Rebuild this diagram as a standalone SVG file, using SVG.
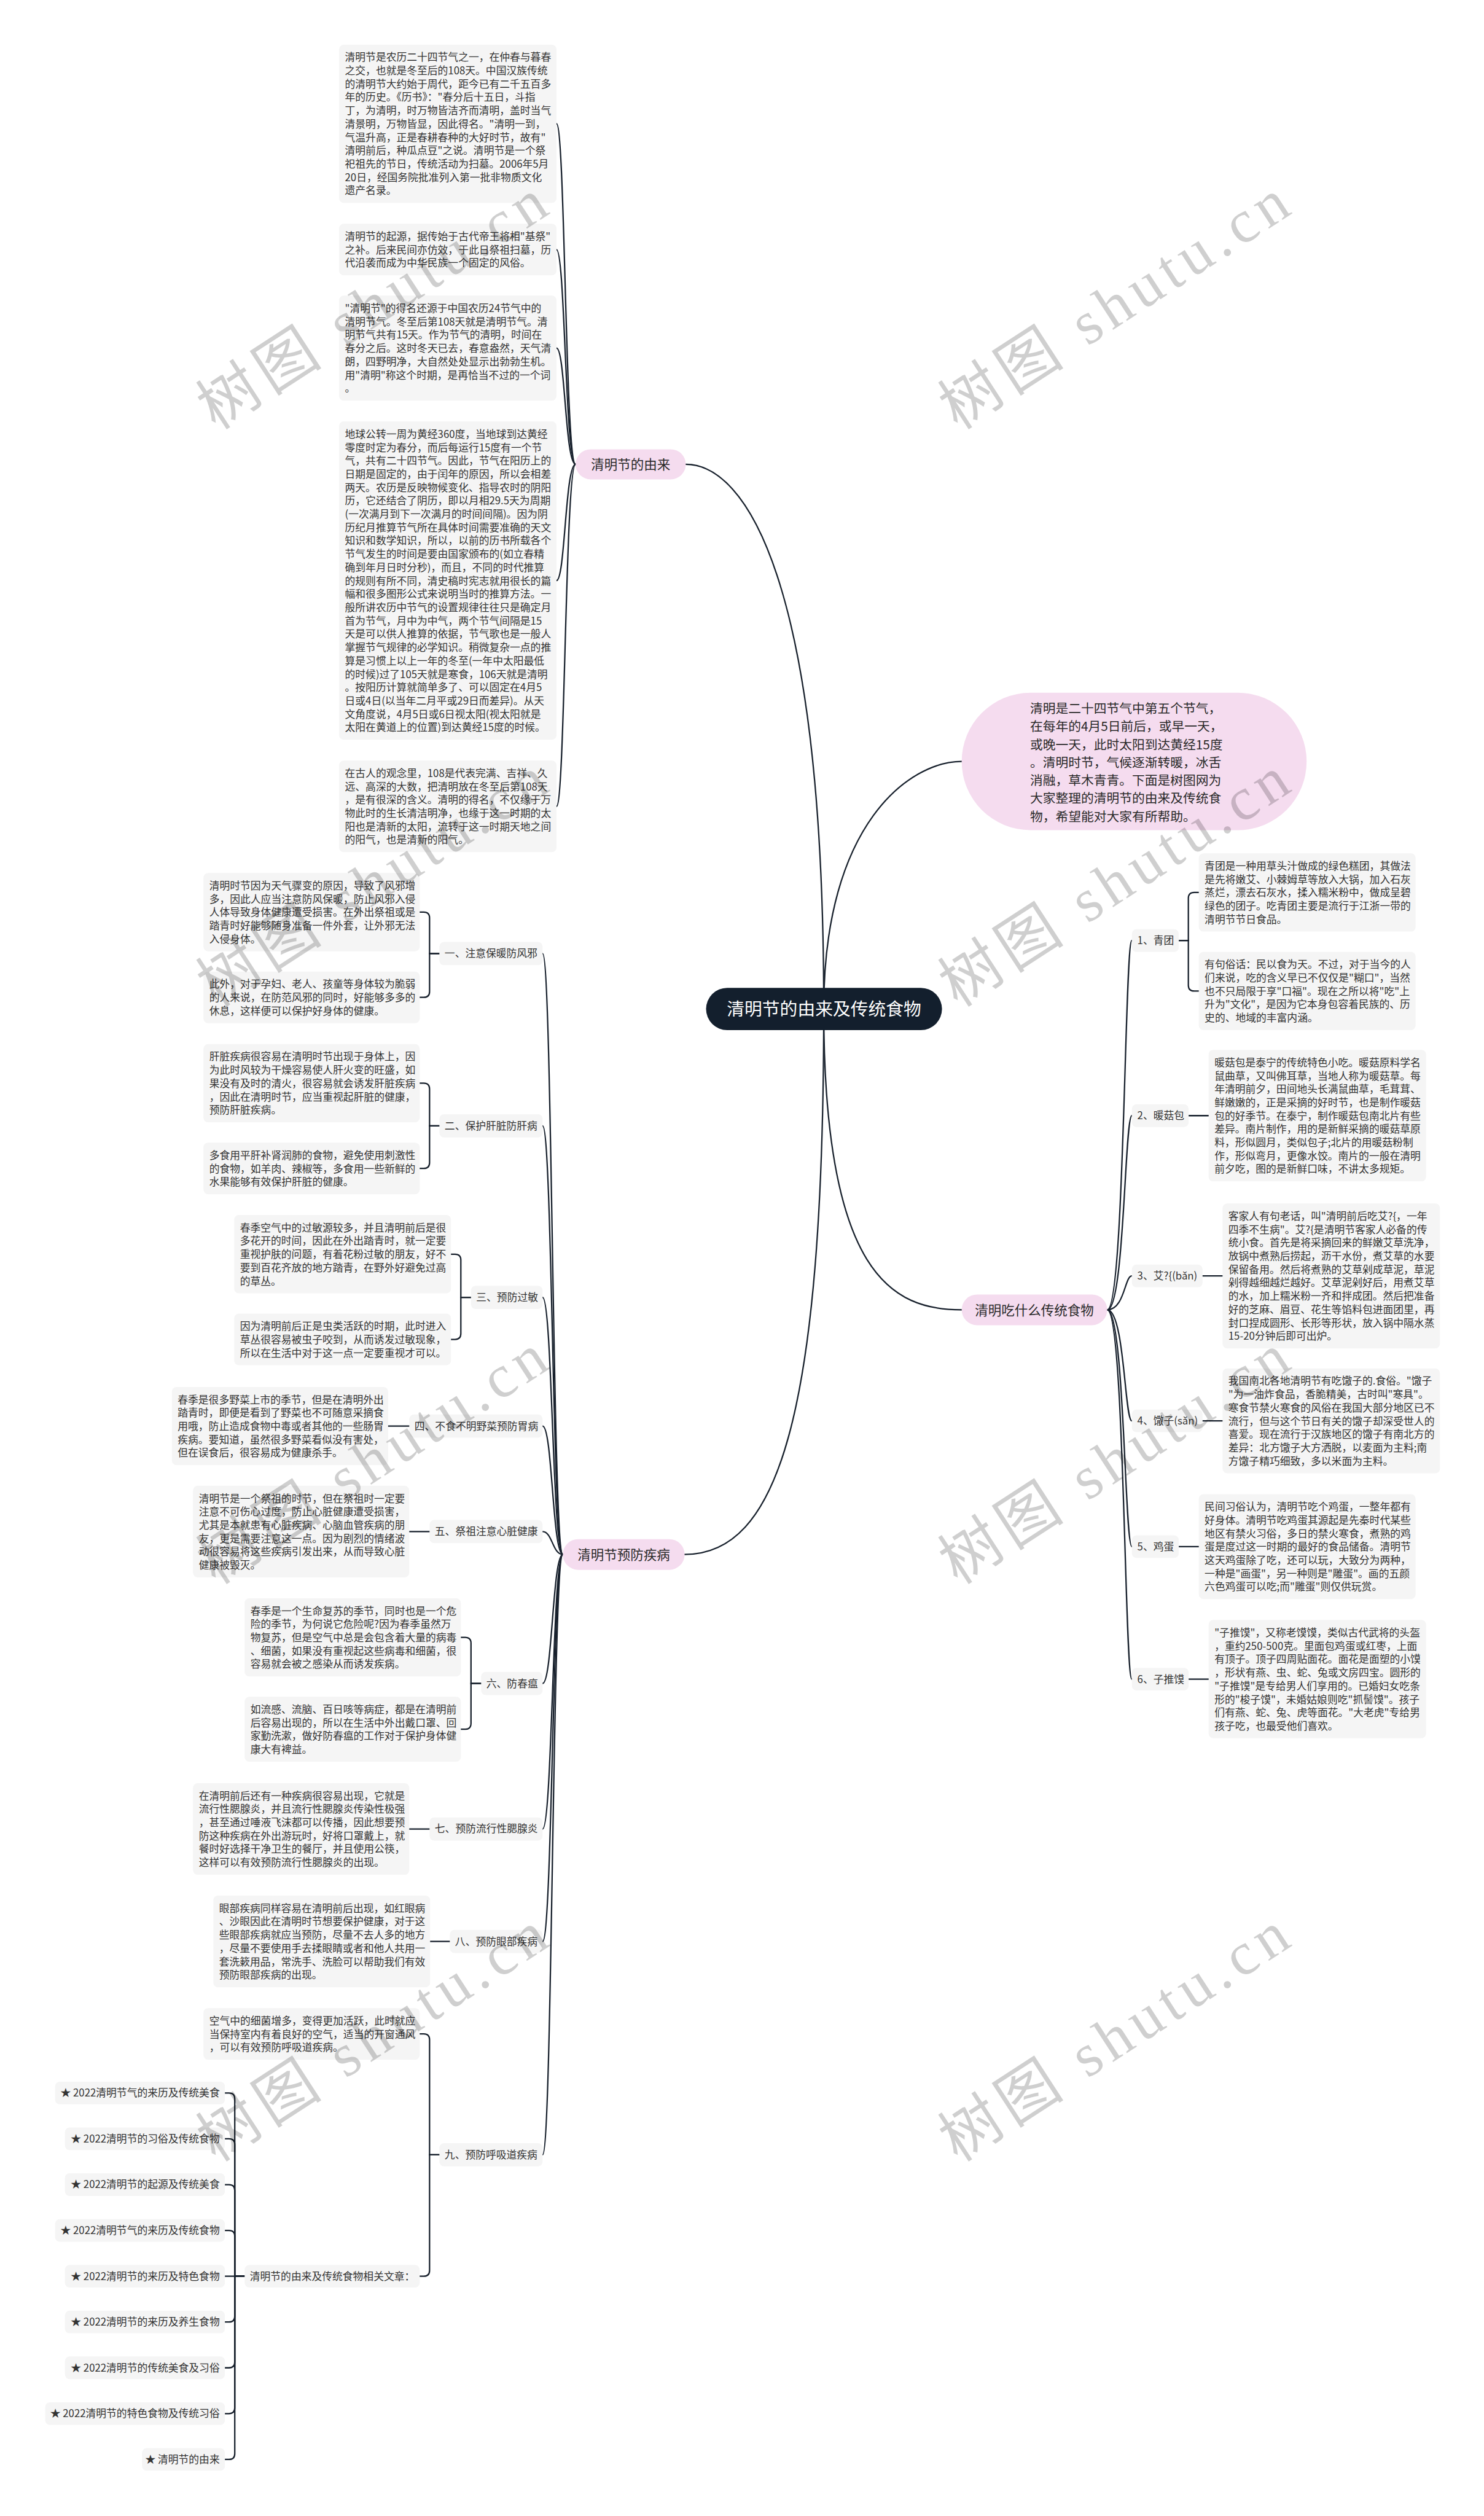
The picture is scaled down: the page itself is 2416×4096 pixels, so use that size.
<svg xmlns="http://www.w3.org/2000/svg" width="2416" height="4096" viewBox="0 0 2416 4096">
<style>
.t{font-family:"Noto Sans CJK SC","Noto Sans",sans-serif;font-size:17.8px;fill:#333}
.n{font-family:"Noto Sans CJK SC","Noto Sans",sans-serif;font-size:22.8px;fill:#2a2a2a;text-anchor:middle}
.b{font-family:"Noto Sans CJK SC","Noto Sans",sans-serif;font-size:22px;fill:#2a2a2a}
.r{font-family:"Noto Sans CJK SC","Noto Sans",sans-serif;font-size:30.5px;fill:#fff;text-anchor:middle}
.box{fill:#f5f5f5}
.pink{fill:#f5dcef}
.lnk{fill:none;stroke:#17202c;stroke-width:2.4;stroke-linecap:round}
.wm{font-family:"Liberation Serif","Noto Sans CJK SC",serif;font-size:105px;fill:#000;fill-opacity:0.19;text-anchor:middle}
</style>
<rect width="2416" height="4096" fill="#fff"/>
<g transform="scale(0.94375)">
<g id="connectors">
<path class="lnk" d="M1421,1740 C1421,1000 1286,801 1183,801"/>
<path class="lnk" d="M1421,1740 C1421,1420 1570,1313.5 1659,1313.5"/>
<path class="lnk" d="M1421,1740 C1421,2200 1540,2259.5 1659,2259.5"/>
<path class="lnk" d="M1421,1740 C1421,2450 1340,2681.5 1181,2681.5"/>
<path class="lnk" d="M993,801 C975,801 975,213.5 960,213.5"/>
<path class="lnk" d="M993,801 C975,801 975,430.5 960,430.5"/>
<path class="lnk" d="M993,801 C975,801 975,600.5 960,600.5"/>
<path class="lnk" d="M993,801 C975,801 975,1001.5 960,1001.5"/>
<path class="lnk" d="M993,801 C975,801 975,1391 960,1391"/>
<path class="lnk" d="M1910,2259.5 C1940,2259.5 1940,1622.5 1952.5,1622.5"/>
<path class="lnk" d="M1910,2259.5 C1940,2259.5 1940,1924.5 1952.5,1924.5"/>
<path class="lnk" d="M1910,2259.5 C1940,2259.5 1940,2201 1952.5,2201"/>
<path class="lnk" d="M1910,2259.5 C1940,2259.5 1940,2451 1952.5,2451"/>
<path class="lnk" d="M1910,2259.5 C1940,2259.5 1940,2668 1952.5,2668"/>
<path class="lnk" d="M1910,2259.5 C1940,2259.5 1940,2896.5 1952.5,2896.5"/>
<path class="lnk" d="M2033.5,1622.5 H2050 V1549.5 Q2050,1539.5 2060,1539.5 H2068"/>
<path class="lnk" d="M2033.5,1622.5 H2050 V1699.5 Q2050,1709.5 2060,1709.5 H2068"/>
<path class="lnk" d="M2050.5,1924.5 H2085"/>
<path class="lnk" d="M2074.5,2201 H2109"/>
<path class="lnk" d="M2074.5,2451 H2109"/>
<path class="lnk" d="M2033.5,2668 H2068"/>
<path class="lnk" d="M2050.5,2896.5 H2085"/>
<path class="lnk" d="M971,2681.5 C953,2681.5 953,1645 936,1645"/>
<path class="lnk" d="M971,2681.5 C953,2681.5 953,1942 936,1942"/>
<path class="lnk" d="M971,2681.5 C953,2681.5 953,2238 936,2238"/>
<path class="lnk" d="M971,2681.5 C953,2681.5 953,2460 936,2460"/>
<path class="lnk" d="M971,2681.5 C953,2681.5 953,2642 936,2642"/>
<path class="lnk" d="M971,2681.5 C953,2681.5 953,2904 936,2904"/>
<path class="lnk" d="M971,2681.5 C953,2681.5 953,3155 936,3155"/>
<path class="lnk" d="M971,2681.5 C953,2681.5 953,3349 936,3349"/>
<path class="lnk" d="M971,2681.5 C953,2681.5 953,3717 936,3717"/>
<path class="lnk" d="M758,1645 H741 V1583.5 Q741,1573.5 731,1573.5 H724"/>
<path class="lnk" d="M758,1645 H741 V1710.5 Q741,1720.5 731,1720.5 H724"/>
<path class="lnk" d="M758,1942 H741 V1878.5 Q741,1868.5 731,1868.5 H724"/>
<path class="lnk" d="M758,1942 H741 V2005.5 Q741,2015.5 731,2015.5 H724"/>
<path class="lnk" d="M812.5,2238 H795 V2173.5 Q795,2163.5 785,2163.5 H778"/>
<path class="lnk" d="M812.5,2238 H795 V2300.5 Q795,2310.5 785,2310.5 H778"/>
<path class="lnk" d="M706,2460 H669.5"/>
<path class="lnk" d="M741,2642 H706"/>
<path class="lnk" d="M830,2904 H812.5 V2834.5 Q812.5,2824.5 802.5,2824.5 H795"/>
<path class="lnk" d="M830,2904 H812.5 V2973 Q812.5,2983 802.5,2983 H795"/>
<path class="lnk" d="M741,3155 H706"/>
<path class="lnk" d="M776,3349 H742"/>
<path class="lnk" d="M758,3717 H741 V3518.5 Q741,3508.5 731,3508.5 H724"/>
<path class="lnk" d="M758,3717 H741 V3916.5 Q741,3926.5 731,3926.5 H724"/>
<path class="lnk" d="M422,3926.5 H405 V3620.5 Q405,3610.5 395,3610.5 H388"/>
<path class="lnk" d="M422,3926.5 H405 V3699.5 Q405,3689.5 395,3689.5 H388"/>
<path class="lnk" d="M422,3926.5 H405 V3778.5 Q405,3768.5 395,3768.5 H388"/>
<path class="lnk" d="M422,3926.5 H405 V3857.5 Q405,3847.5 395,3847.5 H388"/>
<path class="lnk" d="M422,3926.5 H388"/>
<path class="lnk" d="M422,3926.5 H405 V3995.5 Q405,4005.5 395,4005.5 H388"/>
<path class="lnk" d="M422,3926.5 H405 V4074.5 Q405,4084.5 395,4084.5 H388"/>
<path class="lnk" d="M422,3926.5 H405 V4153.5 Q405,4163.5 395,4163.5 H388"/>
<path class="lnk" d="M422,3926.5 H405 V4232.5 Q405,4242.5 395,4242.5 H388"/>
</g>

<g id="root"><rect x="1218" y="1704" width="407" height="73" rx="36.5" fill="#131f2d"/><text class="r" x="1421.5" y="1752">清明节的由来及传统食物</text></g>

<g id="intro"><rect class="pink" x="1659" y="1195" width="595" height="237" rx="118.5"/>
<text class="b" x="1777" y="1230.4"><tspan x="1777">清明是二十四节气中第五个节气，</tspan><tspan x="1777" dy="31">在每年的4月5日前后，或早一天，</tspan><tspan x="1777" dy="31">或晚一天，此时太阳到达黄经15度</tspan><tspan x="1777" dy="31">。清明时节，气候逐渐转暖，冰舌</tspan><tspan x="1777" dy="31">消融，草木青青。下面是树图网为</tspan><tspan x="1777" dy="31">大家整理的清明节的由来及传统食</tspan><tspan x="1777" dy="31">物，希望能对大家有所帮助。</tspan></text></g>

<g id="branch-origin"><rect class="pink" x="993" y="775" width="190" height="52" rx="26"/><text class="n" x="1088" y="809.7">清明节的由来</text></g>
<g id="origin-1"><rect class="box" x="585" y="77" width="375" height="273" rx="8"/>
<text class="t" x="595" y="105.3"><tspan x="595">清明节是农历二十四节气之一，在仲春与暮春</tspan><tspan x="595" dy="23">之交，也就是冬至后的108天。中国汉族传统</tspan><tspan x="595" dy="23">的清明节大约始于周代，距今已有二千五百多</tspan><tspan x="595" dy="23">年的历史。《历书》："春分后十五日，斗指</tspan><tspan x="595" dy="23">丁，为清明，时万物皆洁齐而清明，盖时当气</tspan><tspan x="595" dy="23">清景明，万物皆显，因此得名。"清明一到，</tspan><tspan x="595" dy="23">气温升高，正是春耕春种的大好时节，故有"</tspan><tspan x="595" dy="23">清明前后，种瓜点豆"之说。清明节是一个祭</tspan><tspan x="595" dy="23">祀祖先的节日，传统活动为扫墓。2006年5月</tspan><tspan x="595" dy="23">20日，经国务院批准列入第一批非物质文化</tspan><tspan x="595" dy="23">遗产名录。</tspan></text></g>
<g id="origin-2"><rect class="box" x="585" y="386" width="375" height="89" rx="8"/>
<text class="t" x="595" y="414.3"><tspan x="595">清明节的起源，据传始于古代帝王将相"基祭"</tspan><tspan x="595" dy="23">之补。后来民间亦仿效，于此日祭祖扫墓，历</tspan><tspan x="595" dy="23">代沿袭而成为中华民族一个固定的风俗。</tspan></text></g>
<g id="origin-3"><rect class="box" x="585" y="510" width="375" height="181" rx="8"/>
<text class="t" x="595" y="538.3"><tspan x="595">"清明节"的得名还源于中国农历24节气中的</tspan><tspan x="595" dy="23">清明节气。冬至后第108天就是清明节气。清</tspan><tspan x="595" dy="23">明节气共有15天。作为节气的清明，时间在</tspan><tspan x="595" dy="23">春分之后。这时冬天已去，春意盎然，天气清</tspan><tspan x="595" dy="23">朗，四野明净，大自然处处显示出勃勃生机。</tspan><tspan x="595" dy="23">用"清明"称这个时期，是再恰当不过的一个词</tspan><tspan x="595" dy="23">。</tspan></text></g>
<g id="origin-4"><rect class="box" x="585" y="727" width="375" height="549" rx="8"/>
<text class="t" x="595" y="755.3"><tspan x="595">地球公转一周为黄经360度，当地球到达黄经</tspan><tspan x="595" dy="23">零度时定为春分，而后每运行15度有一个节</tspan><tspan x="595" dy="23">气，共有二十四节气。因此，节气在阳历上的</tspan><tspan x="595" dy="23">日期是固定的，由于闰年的原因，所以会相差</tspan><tspan x="595" dy="23">两天。农历是反映物候变化、指导农时的阴阳</tspan><tspan x="595" dy="23">历，它还结合了阴历，即以月相29.5天为周期</tspan><tspan x="595" dy="23">(一次满月到下一次满月的时间间隔)。因为阴</tspan><tspan x="595" dy="23">历纪月推算节气所在具体时间需要准确的天文</tspan><tspan x="595" dy="23">知识和数学知识，所以，以前的历书所载各个</tspan><tspan x="595" dy="23">节气发生的时间是要由国家颁布的(如立春精</tspan><tspan x="595" dy="23">确到年月日时分秒)，而且，不同的时代推算</tspan><tspan x="595" dy="23">的规则有所不同，清史稿时宪志就用很长的篇</tspan><tspan x="595" dy="23">幅和很多图形公式来说明当时的推算方法。一</tspan><tspan x="595" dy="23">般所讲农历中节气的设置规律往往只是确定月</tspan><tspan x="595" dy="23">首为节气，月中为中气，两个节气间隔是15</tspan><tspan x="595" dy="23">天是可以供人推算的依据，节气歌也是一般人</tspan><tspan x="595" dy="23">掌握节气规律的必学知识。稍微复杂一点的推</tspan><tspan x="595" dy="23">算是习惯上以上一年的冬至(一年中太阳最低</tspan><tspan x="595" dy="23">的时候)过了105天就是寒食，106天就是清明</tspan><tspan x="595" dy="23">。按阳历计算就简单多了、可以固定在4月5</tspan><tspan x="595" dy="23">日或4日(以当年二月平或29日而差异)。从天</tspan><tspan x="595" dy="23">文角度说，4月5日或6日视太阳(视太阳就是</tspan><tspan x="595" dy="23">太阳在黄道上的位置)到达黄经15度的时候。</tspan></text></g>
<g id="origin-5"><rect class="box" x="585" y="1312" width="375" height="158" rx="8"/>
<text class="t" x="595" y="1340.3"><tspan x="595">在古人的观念里，108是代表完满、吉祥、久</tspan><tspan x="595" dy="23">远、高深的大数，把清明放在冬至后第108天</tspan><tspan x="595" dy="23">，是有很深的含义。清明的得名，不仅缘于万</tspan><tspan x="595" dy="23">物此时的生长清洁明净，也缘于这一时期的太</tspan><tspan x="595" dy="23">阳也是清新的太阳，流转于这一时期天地之间</tspan><tspan x="595" dy="23">的阳气，也是清新的阳气。</tspan></text></g>

<g id="branch-food"><rect class="pink" x="1659" y="2233" width="251" height="53" rx="26.5"/><text class="n" x="1784.5" y="2268.2">清明吃什么传统食物</text></g>
<g id="food-1"><rect class="box" x="1952.5" y="1603" width="81" height="39" rx="8"/><text class="t" x="1962" y="1628.8">1、青团</text></g>
<g id="food-1a"><rect class="box" x="2068" y="1472" width="374" height="135" rx="8"/>
<text class="t" x="2078" y="1500.3"><tspan x="2078">青团是一种用草头汁做成的绿色糕团，其做法</tspan><tspan x="2078" dy="23">是先将嫩艾、小棘姆草等放入大锅，加入石灰</tspan><tspan x="2078" dy="23">蒸烂，漂去石灰水，揉入糯米粉中，做成呈碧</tspan><tspan x="2078" dy="23">绿色的团子。吃青团主要是流行于江浙一带的</tspan><tspan x="2078" dy="23">清明节节日食品。</tspan></text></g>
<g id="food-1b"><rect class="box" x="2068" y="1642" width="374" height="135" rx="8"/>
<text class="t" x="2078" y="1670.3"><tspan x="2078">有句俗话：民以食为天。不过，对于当今的人</tspan><tspan x="2078" dy="23">们来说，吃的含义早已不仅仅是"糊口"，当然</tspan><tspan x="2078" dy="23">也不只局限于享"口福"。现在之所以将"吃"上</tspan><tspan x="2078" dy="23">升为"文化"，是因为它本身包容着民族的、历</tspan><tspan x="2078" dy="23">史的、地域的丰富内涵。</tspan></text></g>
<g id="food-2"><rect class="box" x="1952.5" y="1905" width="98" height="39" rx="8"/><text class="t" x="1962" y="1930.8">2、暖菇包</text></g>
<g id="food-2a"><rect class="box" x="2085" y="1811" width="375" height="227" rx="8"/>
<text class="t" x="2095" y="1839.3"><tspan x="2095">暖菇包是泰宁的传统特色小吃。暖菇原料学名</tspan><tspan x="2095" dy="23">鼠曲草，又叫佛耳草，当地人称为暖菇草。每</tspan><tspan x="2095" dy="23">年清明前夕，田间地头长满鼠曲草，毛茸茸、</tspan><tspan x="2095" dy="23">鲜嫩嫩的，正是采摘的好时节，也是制作暖菇</tspan><tspan x="2095" dy="23">包的好季节。在泰宁，制作暖菇包南北片有些</tspan><tspan x="2095" dy="23">差异。南片制作，用的是新鲜采摘的暖菇草原</tspan><tspan x="2095" dy="23">料，形似圆月，类似包子;北片的用暖菇粉制</tspan><tspan x="2095" dy="23">作，形似弯月，更像水饺。南片的一般在清明</tspan><tspan x="2095" dy="23">前夕吃，图的是新鲜口味，不讲太多规矩。</tspan></text></g>
<g id="food-3"><rect class="box" x="1952.5" y="2181.5" width="122" height="39" rx="8"/><text class="t" x="1962" y="2207.3">3、艾?{(bǎn)</text></g>
<g id="food-3a"><rect class="box" x="2109" y="2076" width="375" height="250" rx="8"/>
<text class="t" x="2119" y="2104.3"><tspan x="2119">客家人有句老话，叫"清明前后吃艾?{，一年</tspan><tspan x="2119" dy="23">四季不生病"。艾?{是清明节客家人必备的传</tspan><tspan x="2119" dy="23">统小食。首先是将采摘回来的鲜嫩艾草洗净，</tspan><tspan x="2119" dy="23">放锅中煮熟后捞起，沥干水份，煮艾草的水要</tspan><tspan x="2119" dy="23">保留备用。然后将煮熟的艾草剁成草泥，草泥</tspan><tspan x="2119" dy="23">剁得越细越烂越好。艾草泥剁好后，用煮艾草</tspan><tspan x="2119" dy="23">的水，加上糯米粉一齐和拌成团。然后把准备</tspan><tspan x="2119" dy="23">好的芝麻、眉豆、花生等馅料包进面团里，再</tspan><tspan x="2119" dy="23">封口捏成圆形、长形等形状，放入锅中隔水蒸</tspan><tspan x="2119" dy="23">15-20分钟后即可出炉。</tspan></text></g>
<g id="food-4"><rect class="box" x="1952.5" y="2431.5" width="122" height="39" rx="8"/><text class="t" x="1962" y="2457.3">4、馓子(sǎn)</text></g>
<g id="food-4a"><rect class="box" x="2109" y="2360.5" width="375" height="181" rx="8"/>
<text class="t" x="2119" y="2388.8"><tspan x="2119">我国南北各地清明节有吃馓子的.食俗。"馓子</tspan><tspan x="2119" dy="23">"为一油炸食品，香脆精美，古时叫"寒具"。</tspan><tspan x="2119" dy="23">寒食节禁火寒食的风俗在我国大部分地区已不</tspan><tspan x="2119" dy="23">流行，但与这个节日有关的馓子却深受世人的</tspan><tspan x="2119" dy="23">喜爱。现在流行于汉族地区的馓子有南北方的</tspan><tspan x="2119" dy="23">差异：北方馓子大方洒脱，以麦面为主料;南</tspan><tspan x="2119" dy="23">方馓子精巧细致，多以米面为主料。</tspan></text></g>
<g id="food-5"><rect class="box" x="1952.5" y="2648.5" width="81" height="39" rx="8"/><text class="t" x="1962" y="2674.3">5、鸡蛋</text></g>
<g id="food-5a"><rect class="box" x="2068" y="2577.5" width="374" height="181" rx="8"/>
<text class="t" x="2078" y="2605.8"><tspan x="2078">民间习俗认为，清明节吃个鸡蛋，一整年都有</tspan><tspan x="2078" dy="23">好身体。清明节吃鸡蛋其源起是先秦时代某些</tspan><tspan x="2078" dy="23">地区有禁火习俗，多日的禁火寒食，煮熟的鸡</tspan><tspan x="2078" dy="23">蛋是度过这一时期的最好的食品储备。清明节</tspan><tspan x="2078" dy="23">这天鸡蛋除了吃，还可以玩，大致分为两种，</tspan><tspan x="2078" dy="23">一种是"画蛋"，另一种则是"雕蛋"。画的五颜</tspan><tspan x="2078" dy="23">六色鸡蛋可以吃;而"雕蛋"则仅供玩赏。</tspan></text></g>
<g id="food-6"><rect class="box" x="1952.5" y="2877" width="98" height="39" rx="8"/><text class="t" x="1962" y="2902.8">6、子推馍</text></g>
<g id="food-6a"><rect class="box" x="2085" y="2794.5" width="375" height="204" rx="8"/>
<text class="t" x="2095" y="2822.8"><tspan x="2095">"子推馍"，又称老馍馍，类似古代武将的头盔</tspan><tspan x="2095" dy="23">，重约250-500克。里面包鸡蛋或红枣，上面</tspan><tspan x="2095" dy="23">有顶子。顶子四周贴面花。面花是面塑的小馍</tspan><tspan x="2095" dy="23">，形状有燕、虫、蛇、兔或文房四宝。圆形的</tspan><tspan x="2095" dy="23">"子推馍"是专给男人们享用的。已婚妇女吃条</tspan><tspan x="2095" dy="23">形的"梭子馍"，未婚姑娘则吃"抓髻馍"。孩子</tspan><tspan x="2095" dy="23">们有燕、蛇、兔、虎等面花。"大老虎"专给男</tspan><tspan x="2095" dy="23">孩子吃，也最受他们喜欢。</tspan></text></g>

<g id="branch-prevent"><rect class="pink" x="971" y="2655" width="210" height="53" rx="26.5"/><text class="n" x="1076" y="2690.2">清明节预防疾病</text></g>
<g id="p1"><rect class="box" x="758" y="1625" width="178" height="40" rx="8"/><text class="t" x="767" y="1651.3">一、注意保暖防风邪</text></g>
<g id="p1a"><rect class="box" x="351" y="1506" width="373" height="135" rx="8"/>
<text class="t" x="361" y="1534.3"><tspan x="361">清明时节因为天气骤变的原因，导致了风邪增</tspan><tspan x="361" dy="23">多，因此人应当注意防风保暖，防止风邪入侵</tspan><tspan x="361" dy="23">人体导致身体健康遭受损害。在外出祭祖或是</tspan><tspan x="361" dy="23">踏青时好能够随身准备一件外套，让外邪无法</tspan><tspan x="361" dy="23">入侵身体。</tspan></text></g>
<g id="p1b"><rect class="box" x="351" y="1676" width="373" height="89" rx="8"/>
<text class="t" x="361" y="1704.3"><tspan x="361">此外，对于孕妇、老人、孩童等身体较为脆弱</tspan><tspan x="361" dy="23">的人来说，在防范风邪的同时，好能够多多的</tspan><tspan x="361" dy="23">休息，这样便可以保护好身体的健康。</tspan></text></g>
<g id="p2"><rect class="box" x="758" y="1922" width="178" height="40" rx="8"/><text class="t" x="767" y="1948.3">二、保护肝脏防肝病</text></g>
<g id="p2a"><rect class="box" x="351" y="1801" width="373" height="135" rx="8"/>
<text class="t" x="361" y="1829.3"><tspan x="361">肝脏疾病很容易在清明时节出现于身体上，因</tspan><tspan x="361" dy="23">为此时风较为干燥容易使人肝火变的旺盛，如</tspan><tspan x="361" dy="23">果没有及时的清火，很容易就会诱发肝脏疾病</tspan><tspan x="361" dy="23">，因此在清明时节，应当重视起肝脏的健康，</tspan><tspan x="361" dy="23">预防肝脏疾病。</tspan></text></g>
<g id="p2b"><rect class="box" x="351" y="1971" width="373" height="89" rx="8"/>
<text class="t" x="361" y="1999.3"><tspan x="361">多食用平肝补肾润肺的食物，避免使用刺激性</tspan><tspan x="361" dy="23">的食物，如羊肉、辣椒等，多食用一些新鲜的</tspan><tspan x="361" dy="23">水果能够有效保护肝脏的健康。</tspan></text></g>
<g id="p3"><rect class="box" x="812.5" y="2218" width="123.5" height="40" rx="8"/><text class="t" x="821.5" y="2244.3">三、预防过敏</text></g>
<g id="p3a"><rect class="box" x="404" y="2096" width="374" height="135" rx="8"/>
<text class="t" x="414" y="2124.3"><tspan x="414">春季空气中的过敏源较多，并且清明前后是很</tspan><tspan x="414" dy="23">多花开的时间，因此在外出踏青时，就一定要</tspan><tspan x="414" dy="23">重视护肤的问题，有着花粉过敏的朋友，好不</tspan><tspan x="414" dy="23">要到百花齐放的地方踏青，在野外好避免过高</tspan><tspan x="414" dy="23">的草丛。</tspan></text></g>
<g id="p3b"><rect class="box" x="404" y="2266" width="374" height="89" rx="8"/>
<text class="t" x="414" y="2294.3"><tspan x="414">因为清明前后正是虫类活跃的时期，此时进入</tspan><tspan x="414" dy="23">草丛很容易被虫子咬到，从而诱发过敏现象，</tspan><tspan x="414" dy="23">所以在生活中对于这一点一定要重视才可以。</tspan></text></g>
<g id="p4"><rect class="box" x="706" y="2440" width="230" height="40" rx="8"/><text class="t" x="715" y="2466.3">四、不食不明野菜预防胃病</text></g>
<g id="p4a"><rect class="box" x="296.5" y="2392.5" width="373" height="135" rx="8"/>
<text class="t" x="306.5" y="2420.8"><tspan x="306.5">春季是很多野菜上市的季节，但是在清明外出</tspan><tspan x="306.5" dy="23">踏青时，即便是看到了野菜也不可随意采摘食</tspan><tspan x="306.5" dy="23">用哦，防止造成食物中毒或者其他的一些肠胃</tspan><tspan x="306.5" dy="23">疾病。要知道，虽然很多野菜看似没有害处，</tspan><tspan x="306.5" dy="23">但在误食后，很容易成为健康杀手。</tspan></text></g>
<g id="p5"><rect class="box" x="741" y="2622" width="195" height="40" rx="8"/><text class="t" x="750" y="2648.3">五、祭祖注意心脏健康</text></g>
<g id="p5a"><rect class="box" x="333" y="2563" width="373" height="158" rx="8"/>
<text class="t" x="343" y="2591.3"><tspan x="343">清明节是一个祭祖的时节，但在祭祖时一定要</tspan><tspan x="343" dy="23">注意不可伤心过度，防止心脏健康遭受损害，</tspan><tspan x="343" dy="23">尤其是本就患有心脏疾病、心脑血管疾病的朋</tspan><tspan x="343" dy="23">友，更是需要注意这一点。因为剧烈的情绪波</tspan><tspan x="343" dy="23">动很容易将这些疾病引发出来，从而导致心脏</tspan><tspan x="343" dy="23">健康被毁灭。</tspan></text></g>
<g id="p6"><rect class="box" x="830" y="2884" width="106" height="40" rx="8"/><text class="t" x="839" y="2910.3">六、防春瘟</text></g>
<g id="p6a"><rect class="box" x="422" y="2757" width="373" height="135" rx="8"/>
<text class="t" x="432" y="2785.3"><tspan x="432">春季是一个生命复苏的季节，同时也是一个危</tspan><tspan x="432" dy="23">险的季节，为何说它危险呢?因为春季虽然万</tspan><tspan x="432" dy="23">物复苏，但是空气中总是会包含着大量的病毒</tspan><tspan x="432" dy="23">、细菌，如果没有重视起这些病毒和细菌，很</tspan><tspan x="432" dy="23">容易就会被之感染从而诱发疾病。</tspan></text></g>
<g id="p6b"><rect class="box" x="422" y="2927" width="373" height="112" rx="8"/>
<text class="t" x="432" y="2955.3"><tspan x="432">如流感、流脑、百日咳等病症，都是在清明前</tspan><tspan x="432" dy="23">后容易出现的，所以在生活中外出戴口罩、回</tspan><tspan x="432" dy="23">家勤洗漱，做好防春瘟的工作对于保护身体健</tspan><tspan x="432" dy="23">康大有裨益。</tspan></text></g>
<g id="p7"><rect class="box" x="741" y="3135" width="195" height="40" rx="8"/><text class="t" x="750" y="3161.3">七、预防流行性腮腺炎</text></g>
<g id="p7a"><rect class="box" x="333" y="3076" width="373" height="158" rx="8"/>
<text class="t" x="343" y="3104.3"><tspan x="343">在清明前后还有一种疾病很容易出现，它就是</tspan><tspan x="343" dy="23">流行性腮腺炎，并且流行性腮腺炎传染性极强</tspan><tspan x="343" dy="23">，甚至通过唾液飞沫都可以传播，因此想要预</tspan><tspan x="343" dy="23">防这种疾病在外出游玩时，好将口罩戴上，就</tspan><tspan x="343" dy="23">餐时好选择干净卫生的餐厅，并且使用公筷，</tspan><tspan x="343" dy="23">这样可以有效预防流行性腮腺炎的出现。</tspan></text></g>
<g id="p8"><rect class="box" x="776" y="3329" width="160" height="40" rx="8"/><text class="t" x="785" y="3355.3">八、预防眼部疾病</text></g>
<g id="p8a"><rect class="box" x="368" y="3270" width="374" height="158" rx="8"/>
<text class="t" x="378" y="3298.3"><tspan x="378">眼部疾病同样容易在清明前后出现，如红眼病</tspan><tspan x="378" dy="23">、沙眼因此在清明时节想要保护健康，对于这</tspan><tspan x="378" dy="23">些眼部疾病就应当预防，尽量不去人多的地方</tspan><tspan x="378" dy="23">，尽量不要使用手去揉眼睛或者和他人共用一</tspan><tspan x="378" dy="23">套洗簌用品，常洗手、洗脸可以帮助我们有效</tspan><tspan x="378" dy="23">预防眼部疾病的出现。</tspan></text></g>
<g id="p9"><rect class="box" x="758" y="3697" width="178" height="40" rx="8"/><text class="t" x="767" y="3723.3">九、预防呼吸道疾病</text></g>
<g id="p9a"><rect class="box" x="351" y="3464" width="373" height="89" rx="8"/>
<text class="t" x="361" y="3492.3"><tspan x="361">空气中的细菌增多，变得更加活跃，此时就应</tspan><tspan x="361" dy="23">当保持室内有着良好的空气，适当的开窗通风</tspan><tspan x="361" dy="23">，可以有效预防呼吸道疾病。</tspan></text></g>
<g id="related"><rect class="box" x="422" y="3907" width="302" height="39" rx="8"/><text class="t" x="431" y="3932.8">清明节的由来及传统食物相关文章：</text></g>
<g id="rel-1"><rect class="box" x="95" y="3591" width="293" height="39" rx="8"/><text class="t" x="379" y="3616.8" text-anchor="end">★ 2022清明节气的来历及传统美食</text></g>
<g id="rel-2"><rect class="box" x="112" y="3670" width="276" height="39" rx="8"/><text class="t" x="379" y="3695.8" text-anchor="end">★ 2022清明节的习俗及传统食物</text></g>
<g id="rel-3"><rect class="box" x="112" y="3749" width="276" height="39" rx="8"/><text class="t" x="379" y="3774.8" text-anchor="end">★ 2022清明节的起源及传统美食</text></g>
<g id="rel-4"><rect class="box" x="95" y="3828" width="293" height="39" rx="8"/><text class="t" x="379" y="3853.8" text-anchor="end">★ 2022清明节气的来历及传统食物</text></g>
<g id="rel-5"><rect class="box" x="112" y="3907" width="276" height="39" rx="8"/><text class="t" x="379" y="3932.8" text-anchor="end">★ 2022清明节的来历及特色食物</text></g>
<g id="rel-6"><rect class="box" x="112" y="3986" width="276" height="39" rx="8"/><text class="t" x="379" y="4011.8" text-anchor="end">★ 2022清明节的来历及养生食物</text></g>
<g id="rel-7"><rect class="box" x="112" y="4065" width="276" height="39" rx="8"/><text class="t" x="379" y="4090.8" text-anchor="end">★ 2022清明节的传统美食及习俗</text></g>
<g id="rel-8"><rect class="box" x="78" y="4144" width="310" height="39" rx="8"/><text class="t" x="379" y="4169.8" text-anchor="end">★ 2022清明节的特色食物及传统习俗</text></g>
<g id="rel-9"><rect class="box" x="245" y="4223" width="143" height="39" rx="8"/><text class="t" x="379" y="4248.8" text-anchor="end">★ 清明节的由来</text></g>

<g id="watermarks">
<text class="wm" transform="translate(642,525) rotate(-33)" x="0" y="36" textLength="690" lengthAdjust="spacing">树图 shutu.cn</text>
<text class="wm" transform="translate(1922,525) rotate(-33)" x="0" y="36" textLength="690" lengthAdjust="spacing">树图 shutu.cn</text>
<text class="wm" transform="translate(642,1521) rotate(-33)" x="0" y="36" textLength="690" lengthAdjust="spacing">树图 shutu.cn</text>
<text class="wm" transform="translate(1922,1521) rotate(-33)" x="0" y="36" textLength="690" lengthAdjust="spacing">树图 shutu.cn</text>
<text class="wm" transform="translate(642,2517) rotate(-33)" x="0" y="36" textLength="690" lengthAdjust="spacing">树图 shutu.cn</text>
<text class="wm" transform="translate(1922,2517) rotate(-33)" x="0" y="36" textLength="690" lengthAdjust="spacing">树图 shutu.cn</text>
<text class="wm" transform="translate(642,3513) rotate(-33)" x="0" y="36" textLength="690" lengthAdjust="spacing">树图 shutu.cn</text>
<text class="wm" transform="translate(1922,3513) rotate(-33)" x="0" y="36" textLength="690" lengthAdjust="spacing">树图 shutu.cn</text>
</g>
</g>
</svg>
